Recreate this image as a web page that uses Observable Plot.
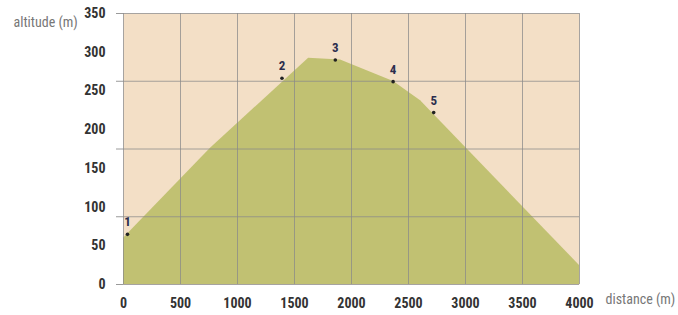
<!DOCTYPE html>
<html><head><meta charset="utf-8">
<script src="https://cdn.jsdelivr.net/npm/d3@7"></script>
<script src="https://cdn.jsdelivr.net/npm/@observablehq/plot@0.6"></script>
<style>html,body{margin:0;padding:0;background:#fff}</style>
</head><body><div id="chart"></div>
<script>
const profileDistance = [0, 761, 1624, 1904, 2369, 2606, 4000];
const profileAltitude = [59.7, 175.7, 292.2, 290, 262.3, 237.2, 24.6];
const waypointLabels = ["1", "2", "3", "4", "5"];
const waypointDistance = [35, 1390, 1858, 2365, 2721];
const waypointAltitude = [64.8, 266.4, 290, 262, 222];
const xTicks = [0, 500, 1000, 1500, 2000, 2500, 3000, 3500, 4000];
const yTickLabels = [0, 50, 100, 150, 200, 250, 300, 350];
const yGridLines = [0, 87.5, 175, 262.5, 350];

const profile = profileDistance.map((d, i) => ({distance: d, altitude: profileAltitude[i]}));
const waypoints = waypointLabels.map((l, i) => ({label: l, distance: waypointDistance[i], altitude: waypointAltitude[i]}));

const font = "'Roboto Condensed', 'Liberation Sans Narrow', 'DejaVu Sans Condensed', Roboto, sans-serif";

const chart = Plot.plot({
  width: 678,
  height: 315,
  marginLeft: 123,
  marginRight: 99,
  marginTop: 13,
  marginBottom: 31,
  style: {fontFamily: font, fontSize: "14px", background: "#fff", overflow: "visible"},
  x: {domain: [0, 4000], label: null},
  y: {domain: [0, 350], label: null},
  marks: [
    Plot.frame({fill: "#f3dfc6", stroke: null}),
    Plot.areaY(profile, {x: "distance", y: "altitude", fill: "#c1c172"}),
    Plot.gridX(xTicks, {stroke: "#8a8a8a", strokeOpacity: 0.75}),
    Plot.gridY(yGridLines, {stroke: "#8a8a8a", strokeOpacity: 0.75}),
    Plot.axisY(yGridLines, {tickSize: 7, stroke: "#9a9a9a", tickFormat: () => "", label: null}),
    Plot.axisY(yTickLabels, {tickSize: 0, tickPadding: 18, fontWeight: "bold", fill: "#333", fontSize: 14, label: null, tickFormat: d => String(d)}),
    Plot.axisX(xTicks, {tickSize: 0, tickPadding: 14, fontWeight: "bold", fill: "#333", fontSize: 14, label: null, tickFormat: d => String(d)}),
    Plot.text(["altitude (m)"], {frameAnchor: "top-left", dx: -110, dy: 4, textAnchor: "start", fill: "#777", fontSize: 14}),
    Plot.text(["distance (m)"], {frameAnchor: "bottom-right", dx: 26, dy: 19, textAnchor: "start", fill: "#777", fontSize: 14}),
    Plot.dot(waypoints, {x: "distance", y: "altitude", r: 1.8, fill: "#222", stroke: null}),
    Plot.text(waypoints, {x: "distance", y: "altitude", text: "label", dy: -12, fontWeight: "bold", fontSize: 13, fill: "#2b2d4d"})
  ]
});
document.getElementById("chart").appendChild(chart);
</script>
</body></html>
